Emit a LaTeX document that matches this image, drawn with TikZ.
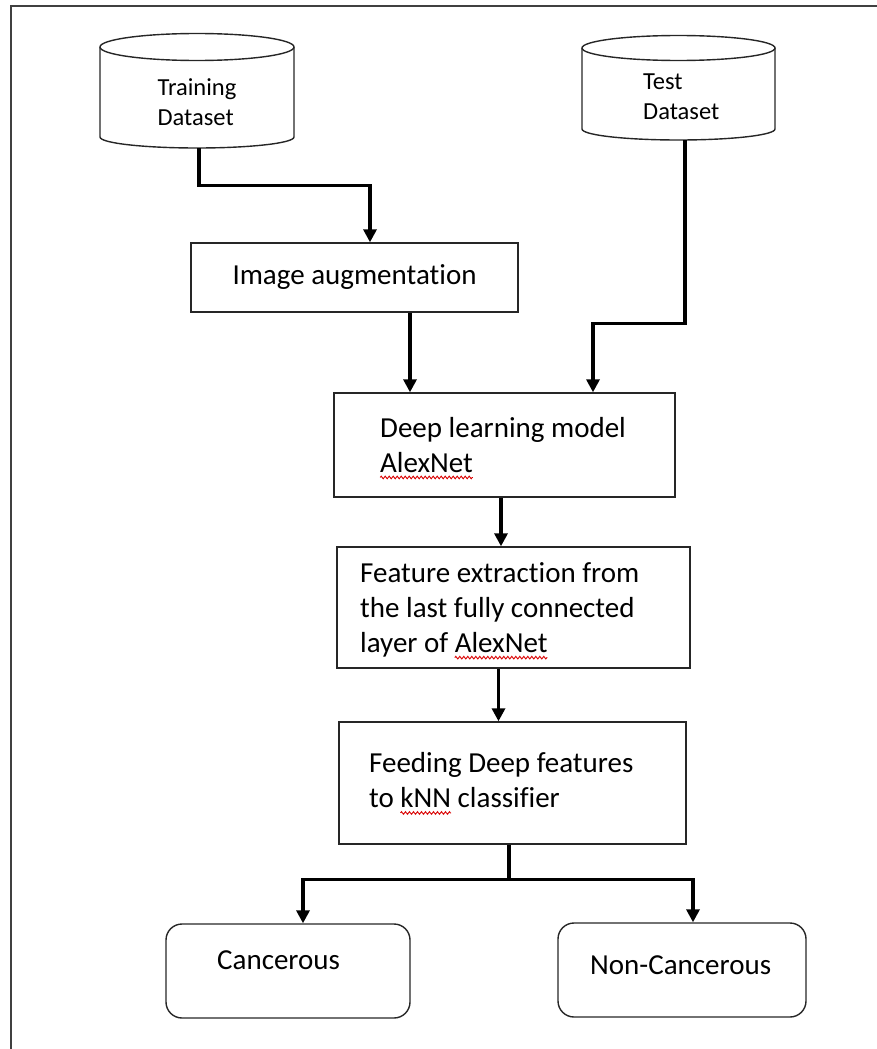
\documentclass[tikz,border=0pt]{standalone}
\usepackage{fontspec}
\setmainfont{Carlito}[Ligatures=NoCommon]
\usetikzlibrary{arrows.meta,decorations.pathmorphing}
\newlength\sqlen
\newcommand\sqw[1]{\settowidth\sqlen{#1}\tikz[overlay,baseline=0pt]\draw[red!85!black,line width=0.9pt,decorate,decoration={zigzag,amplitude=1.3pt,segment length=4pt}] (0pt,-5pt) -- (\sqlen,-5pt);#1}
\begin{document}
\begin{tikzpicture}[x=1pt,y=-1pt,
 frame/.style={draw=black!75,line width=2pt},
 cyl/.style={draw=black!85,line width=1.4pt},
 boxst/.style={draw=black!85,line width=1.4pt,rectangle,inner sep=0pt},
 rbox/.style={boxst,rounded corners=16pt},
 area/.style={rectangle,inner sep=0pt},
 maintxt/.style={font=\fontsize{29}{35}\selectfont,align=left,inner sep=0pt,text=black},
 dstxt/.style={font=\fontsize{24.5}{30}\selectfont,align=left,inner sep=0pt,text=black},
 link/.style={line width=3.2pt,black},
 arr/.style={link,-{Triangle[width=13pt,length=13pt]}}]

\useasboundingbox (0,0) rectangle (877,1049);
\draw[frame] (877,6) -- (11,6) -- (11,1049);

% Training dataset cylinder
\node[area,minimum width=194pt,minimum height=115pt] (train) at (197,90.5) {};
\draw[cyl] (100,47) -- (100,137) arc[start angle=180,end angle=360,x radius=97pt,y radius=11pt] -- (294,47);
\draw[cyl] (197,47) ellipse[x radius=97pt,y radius=13.5pt];
\node[dstxt] (trainT) at (197,102) {Training\\Dataset};

% Test dataset cylinder
\node[area,minimum width=193pt,minimum height=104.5pt] (test) at (678.5,87.75) {};
\draw[cyl] (582,48) -- (582,129) arc[start angle=180,end angle=360,x radius=96.5pt,y radius=11pt] -- (775,48);
\draw[cyl] (678.5,48) ellipse[x radius=96.5pt,y radius=12.5pt];
\node[dstxt,anchor=west] (testT) at (643,97) {Test\\Dataset};

% Process boxes
\node[boxst,maintxt,minimum width=327pt,minimum height=69pt] (img) at (354.5,277.5) {Image augmentation};

\node[boxst,minimum width=341pt,minimum height=104pt] (dl) at (504.5,445) {};
\node[maintxt,anchor=west] (dlT) at (380,445) {Deep learning model\\\sqw{AlexNet}};

\node[boxst,minimum width=353pt,minimum height=121pt] (feat) at (513.5,607.5) {};
\node[maintxt,anchor=west] (featT) at (360,610) {Feature extraction from\\the last fully connected\\layer of \sqw{AlexNet}};

\node[boxst,minimum width=347pt,minimum height=122pt] (feed) at (512.5,783) {};
\node[maintxt,anchor=west] (feedT) at (369,780.5) {Feeding Deep features\\to \sqw{kNN} classifier};

\node[rbox,minimum width=244pt,minimum height=94pt] (canc) at (288,971) {};
\node[maintxt,anchor=west] (cancT) at (217,960) {Cancerous};

\node[rbox,minimum width=248pt,minimum height=94pt] (noncanc) at (682,970) {};
\node[maintxt,anchor=west] (noncancT) at (590,965) {Non-Cancerous};

% Connectors
\draw[arr] ([xshift=2pt]train.south) -- ++(0,37) -| ([xshift=15.5pt]img.north);
\draw[arr] ([xshift=55.5pt]img.south) -- ([xshift=55.5pt]img.south |- dl.north);
\draw[arr] ([xshift=6.5pt]test.south) -- ++(0,183) -| ([xshift=88.5pt]dl.north);
\draw[arr] ([xshift=-3.5pt]dl.south) -- ([xshift=-3.5pt]dl.south |- feat.north);
\draw[arr] ([xshift=-15pt]feat.south) -- ([xshift=-15pt]feat.south |- feed.north);
\draw[link] ([xshift=-3.5pt]feed.south) -- ++(0,35) coordinate (split);
\draw[arr] (split) -| ([xshift=15pt]canc.north);
\draw[arr] (split) -| ([xshift=11pt]noncanc.north);
\end{tikzpicture}
\end{document}
